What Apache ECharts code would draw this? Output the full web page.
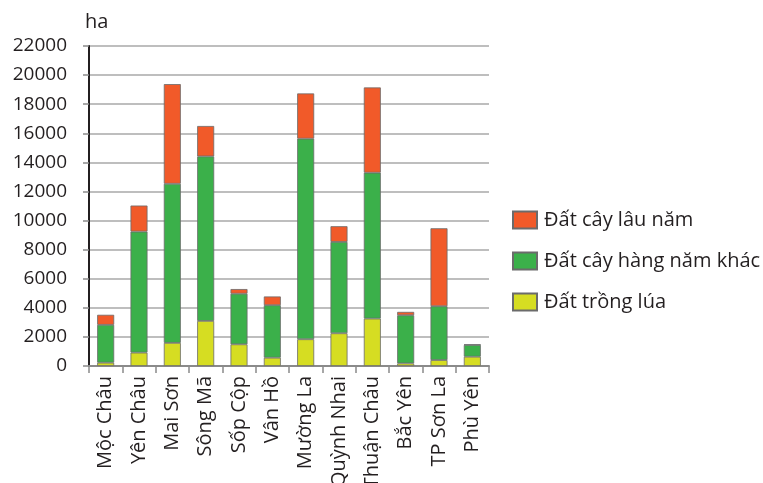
<!DOCTYPE html>
<html>
<head>
<meta charset="utf-8">
<script src="https://cdn.jsdelivr.net/npm/echarts@6/dist/echarts.min.js"></script>
<style>
    html, body { margin: 0; padding: 0; background: #fff; }
    #land { width: 763px; height: 483px; }
</style>
</head>
<body>
<div id="land"></div>
<script>
// Chart data
// ------------------------------

var districts = ['Mộc Châu', 'Yên Châu', 'Mai Sơn', 'Sông Mã', 'Sốp Cộp', 'Vân Hồ',
    'Mường La', 'Quỳnh Nhai', 'Thuận Châu', 'Bắc Yên', 'TP Sơn La', 'Phù Yên'];

// Đất trồng lúa
var riceLand = [230, 920, 1590, 3100, 1490, 570, 1840, 2250, 3260, 180, 410, 640];

// Đất cây hàng năm khác
var annualOther = [2600, 8320, 10940, 11310, 3480, 3610, 13790, 6280, 10030, 3310, 3700, 810];

// Đất cây lâu năm
var perennial = [690, 1790, 6850, 2090, 320, 600, 3110, 1080, 5860, 230, 5360, 30];

var seriesNames = ['Đất trồng lúa', 'Đất cây hàng năm khác', 'Đất cây lâu năm'];


// Setup module
// ------------------------------

var LandStackedBars = function() {

    var _landChart = function() {
        if (typeof echarts == 'undefined') {
            console.warn('Warning - echarts.min.js is not loaded.');
            return;
        }

        var land_element = document.getElementById('land');
        if (!land_element) return;

        var land_chart = echarts.init(land_element);

        var font = '"Open Sans", Arial, sans-serif';

        // Bar style shared by every series
        var makeSeries = function(name, data, color) {
            return {
                name: name,
                type: 'bar',
                stack: 'land',
                barWidth: 17,
                data: data,
                itemStyle: {
                    color: color,
                    borderColor: '#6b6b6b',
                    borderWidth: 0.8
                }
            };
        };

        land_chart.setOption({

            animation: false,

            textStyle: {
                fontFamily: font,
                fontSize: 20,
                color: '#231f20'
            },

            // Setup grid (labels may run past the bottom edge, as in the source)
            grid: {
                left: 89,
                right: 274,
                top: 46,
                bottom: 117,
                containLabel: false,
                outerBoundsMode: 'none'
            },

            // Legend on the right
            legend: {
                orient: 'vertical',
                left: 507,
                top: 205,
                itemWidth: 24,
                itemHeight: 17,
                itemGap: 21,
                icon: 'rect',
                data: [seriesNames[2], seriesNames[1], seriesNames[0]],
                textStyle: {
                    fontFamily: font,
                    fontSize: 20,
                    color: '#231f20',
                    padding: [0, 0, 0, 2]
                }
            },

            // Horizontal axis
            xAxis: [{
                type: 'category',
                data: districts,
                boundaryGap: true,
                axisLine: {
                    lineStyle: {
                        color: '#8a8a8a',
                        width: 2
                    }
                },
                axisTick: {
                    show: true,
                    length: 7,
                    lineStyle: {
                        color: '#8a8a8a',
                        width: 1.5
                    }
                },
                axisLabel: {
                    rotate: 90,
                    margin: 10,
                    interval: 0,
                    hideOverlap: false,
                    fontFamily: font,
                    fontSize: 20,
                    color: '#231f20'
                }
            }],

            // Vertical axis
            yAxis: [{
                type: 'value',
                name: 'ha',
                nameLocation: 'end',
                nameGap: 14,
                nameTextStyle: {
                    fontFamily: font,
                    fontSize: 20,
                    color: '#231f20',
                    align: 'left',
                    padding: [0, 0, 0, -4]
                },
                min: 0,
                max: 22000,
                interval: 2000,
                axisLine: {
                    show: true,
                    lineStyle: {
                        color: '#231f20',
                        width: 2
                    }
                },
                axisTick: {
                    show: true,
                    inside: false,
                    length: 6,
                    lineStyle: {
                        color: '#8a8a8a',
                        width: 1.5
                    }
                },
                axisLabel: {
                    margin: 22,
                    fontFamily: font,
                    fontSize: 19,
                    color: '#231f20',
                    formatter: function(v) {
                        return String(v);
                    }
                },
                splitLine: {
                    lineStyle: {
                        color: '#a8a8a8',
                        width: 1.5
                    }
                }
            }],

            // Add series
            series: [
                makeSeries(seriesNames[0], riceLand, '#d6dd22'),
                makeSeries(seriesNames[1], annualOther, '#3bb04a'),
                makeSeries(seriesNames[2], perennial, '#f15a29')
            ]
        });

        // Resize charts
        window.addEventListener('resize', function() {
            land_chart.resize();
        });
    };

    return {
        init: function() {
            _landChart();
        }
    }
}();


// Initialize module
// ------------------------------

document.addEventListener('DOMContentLoaded', function() {
    LandStackedBars.init();
});
</script>
</body>
</html>
